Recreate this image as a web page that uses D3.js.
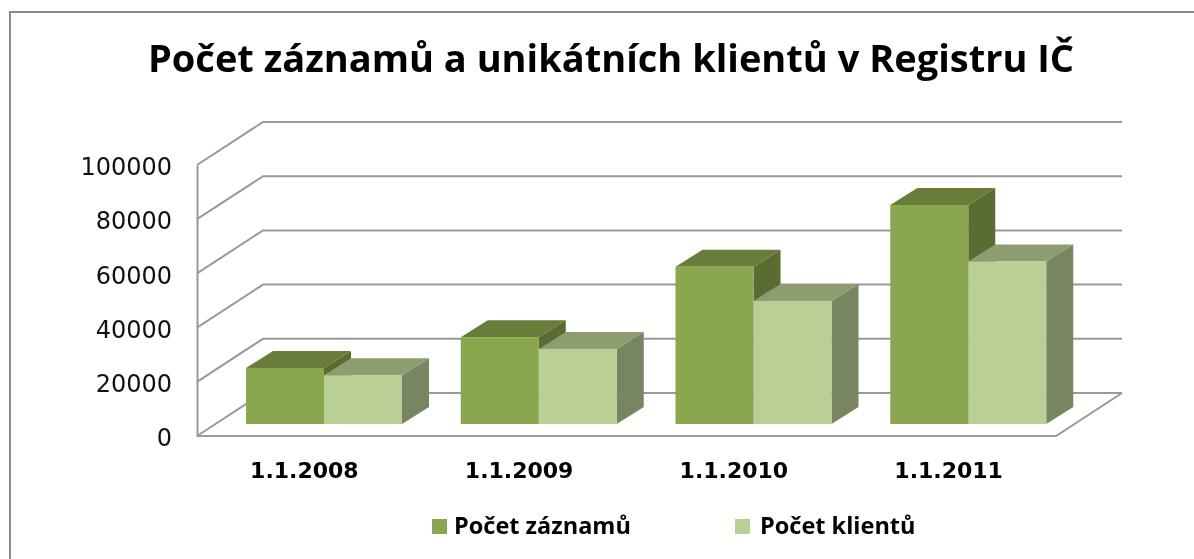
<!DOCTYPE html>
<html lang="cs">
<head>
    <meta charset="UTF-8">
    <title>Počet záznamů a unikátních klientů v Registru IČ</title>
    <script src="https://d3js.org/d3.v7.min.js"></script>
    <style>
        html, body { margin: 0; padding: 0; background: #fff; }
        svg { display: block; filter: blur(0.5px); }
        text { font-family: "Open Sans", "Noto Sans", sans-serif; fill: #000; }
        .title { font-size: 38px; font-weight: 700; }
        .y-axis text { font-family: "DejaVu Sans", sans-serif; font-size: 24px; fill: #111; }
        .cat { font-family: "DejaVu Sans", sans-serif; font-size: 22px; font-weight: 700; }
        .legend text { font-size: 23.5px; font-weight: 700; }
    </style>
</head>
<body>
    <div id="chart"></div>
    <script>
        const categories = ["1.1.2008", "1.1.2009", "1.1.2010", "1.1.2011"];
        const zaznamy = [20700, 32000, 58000, 80800];
        const klienti = [18000, 27700, 45400, 60000];
        const seriesNames = ["Počet záznamů", "Počet klientů"];
        const yTicks = [0, 20000, 40000, 60000, 80000, 100000];

        // front face, top face, side face
        const colors = [
            {front: "#8aa64e", top: "#687d3a", side: "#5a6c32"},
            {front: "#b9cf95", top: "#8d9d70", side: "#778660"}
        ];

        const width = 1194, height = 559;
        const svg = d3.select("#chart").append("svg")
            .attr("width", width)
            .attr("height", height);

        // the picture is cropped: only the top and left of the chart border show
        svg.append("path")
            .attr("d", d3.line()([[10, height], [10, 12], [width, 12]]))
            .attr("fill", "none")
            .attr("stroke", "#8c8c8c")
            .attr("stroke-width", 2);

        svg.append("text")
            .attr("class", "title")
            .attr("x", 611).attr("y", 72)
            .attr("text-anchor", "middle")
            .text("Počet záznamů a unikátních klientů v Registru IČ");

        // floor depth of the 3D box and of the bars
        const wall = {dx: 66, dy: -43};
        const depth = {dx: 27, dy: -17};
        const barBase = -12;

        const x0 = d3.scaleBand().domain(categories).range([197, 1056]);
        const x1 = d3.scaleBand().domain(seriesNames).range([49, 205]);
        const y = d3.scaleLinear().domain([0, 100000]).range([436, 165]);

        const line = d3.line();
        const grid = svg.append("g").attr("fill", "none").attr("stroke", "#999").attr("stroke-width", 2);

        // gridlines run up the left wall and along the back wall
        yTicks.forEach(t => {
            grid.append("path").attr("d", line([
                [x0.range()[0], y(t)],
                [x0.range()[0] + wall.dx, y(t) + wall.dy],
                [x0.range()[1] + wall.dx, y(t) + wall.dy]
            ]));
        });
        grid.append("path").attr("d", line([
            [x0.range()[1] + wall.dx, y(0) + wall.dy],
            [x0.range()[1], y(0)],
            [x0.range()[0], y(0)]
        ]));

        const yAxis = svg.append("g")
            .attr("class", "y-axis")
            .attr("transform", `translate(${x0.range()[0]},0)`)
            .call(d3.axisLeft(y).tickValues(yTicks).tickFormat(d3.format("d")).tickSize(0).tickPadding(25));
        yAxis.select(".domain").attr("stroke", "#999").attr("stroke-width", 2);
        yAxis.selectAll("text").attr("dy", "0.4em");

        const rows = categories.map((c, i) => ({
            category: c,
            values: [zaznamy[i], klienti[i]]
        }));

        const groups = svg.append("g").selectAll("g")
            .data(rows)
            .enter().append("g")
            .attr("transform", d => `translate(${x0(d.category)},${barBase})`);

        // dark bar first, the light bar sits over the bottom of its side face
        [0, 1].forEach(s => {
            const bw = x1.bandwidth();
            const name = seriesNames[s];
            const c = colors[s];
            const bar = groups.append("g");
            bar.append("path")
                .attr("fill", c.side)
                .attr("d", d => {
                    const xr = x1(name) + bw, yt = y(d.values[s]), yb = y(0);
                    return line([[xr, yt], [xr + depth.dx, yt + depth.dy], [xr + depth.dx, yb + depth.dy], [xr, yb]]) + "Z";
                });
            bar.append("path")
                .attr("fill", c.top)
                .attr("d", d => {
                    const xl = x1(name), xr = xl + bw, yt = y(d.values[s]);
                    return line([[xl, yt], [xl + depth.dx, yt + depth.dy], [xr + depth.dx, yt + depth.dy], [xr, yt]]) + "Z";
                });
            bar.append("rect")
                .attr("x", x1(name))
                .attr("y", d => y(d.values[s]))
                .attr("width", bw)
                .attr("height", d => y(0) - y(d.values[s]))
                .attr("fill", c.front);
        });

        svg.append("g").selectAll("text")
            .data(categories)
            .enter().append("text")
            .attr("class", "cat")
            .attr("x", d => x0(d) + x0.bandwidth() / 2)
            .attr("y", 478)
            .attr("text-anchor", "middle")
            .text(d => d);

        const legendX = [432, 735];
        const legend = svg.append("g").attr("class", "legend")
            .selectAll("g")
            .data(seriesNames)
            .enter().append("g")
            .attr("transform", (d, i) => `translate(${legendX[i]},519)`);
        legend.append("rect")
            .attr("width", 15).attr("height", 15)
            .attr("fill", (d, i) => colors[i].front);
        legend.append("text")
            .attr("x", (d, i) => i === 0 ? 22 : 25)
            .attr("y", 15)
            .text(d => d);
    </script>
</body>
</html>
